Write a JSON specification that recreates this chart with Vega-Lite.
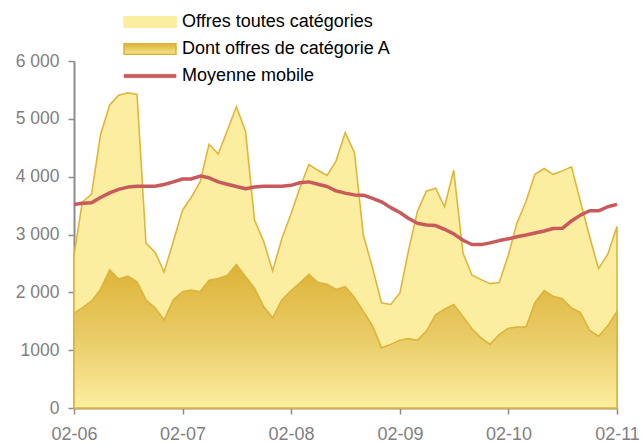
{
  "$schema": "https://vega.github.io/schema/vega-lite/v6.json",
  "width": 543,
  "height": 347,
  "autosize": "none",
  "padding": {"left": 74, "top": 61, "right": 24, "bottom": 36},
  "background": "white",
  "config": {"view": {"stroke": null}, "font": "Liberation Sans"},
  "data": {"values": [
    {"date": "2006-02-01", "total": 2640, "catA": 1640, "ma": 3520},
    {"date": "2006-03-01", "total": 3560, "catA": 1730, "ma": 3540},
    {"date": "2006-04-01", "total": 3700, "catA": 1850, "ma": 3550},
    {"date": "2006-05-01", "total": 4720, "catA": 2050, "ma": 3640},
    {"date": "2006-06-01", "total": 5240, "catA": 2390, "ma": 3720},
    {"date": "2006-07-01", "total": 5410, "catA": 2230, "ma": 3780},
    {"date": "2006-08-01", "total": 5450, "catA": 2280, "ma": 3820},
    {"date": "2006-09-01", "total": 5420, "catA": 2180, "ma": 3835},
    {"date": "2006-10-01", "total": 2850, "catA": 1870, "ma": 3835},
    {"date": "2006-11-01", "total": 2690, "catA": 1730, "ma": 3835},
    {"date": "2006-12-01", "total": 2350, "catA": 1520, "ma": 3865},
    {"date": "2007-01-01", "total": 2880, "catA": 1870, "ma": 3910},
    {"date": "2007-02-01", "total": 3420, "catA": 2010, "ma": 3960},
    {"date": "2007-03-01", "total": 3630, "catA": 2040, "ma": 3960},
    {"date": "2007-04-01", "total": 3910, "catA": 2010, "ma": 4010},
    {"date": "2007-05-01", "total": 4560, "catA": 2210, "ma": 3980},
    {"date": "2007-06-01", "total": 4390, "catA": 2240, "ma": 3910},
    {"date": "2007-07-01", "total": 4790, "catA": 2290, "ma": 3870},
    {"date": "2007-08-01", "total": 5210, "catA": 2480, "ma": 3830},
    {"date": "2007-09-01", "total": 4780, "catA": 2270, "ma": 3790},
    {"date": "2007-10-01", "total": 3250, "catA": 2070, "ma": 3820},
    {"date": "2007-11-01", "total": 2880, "catA": 1750, "ma": 3835},
    {"date": "2007-12-01", "total": 2370, "catA": 1560, "ma": 3835},
    {"date": "2008-01-01", "total": 2930, "catA": 1870, "ma": 3835},
    {"date": "2008-02-01", "total": 3360, "catA": 2030, "ma": 3850},
    {"date": "2008-03-01", "total": 3800, "catA": 2160, "ma": 3895},
    {"date": "2008-04-01", "total": 4210, "catA": 2310, "ma": 3910},
    {"date": "2008-05-01", "total": 4110, "catA": 2170, "ma": 3870},
    {"date": "2008-06-01", "total": 4020, "catA": 2140, "ma": 3830},
    {"date": "2008-07-01", "total": 4270, "catA": 2050, "ma": 3755},
    {"date": "2008-08-01", "total": 4760, "catA": 2100, "ma": 3715},
    {"date": "2008-09-01", "total": 4420, "catA": 1910, "ma": 3685},
    {"date": "2008-10-01", "total": 2990, "catA": 1670, "ma": 3680},
    {"date": "2008-11-01", "total": 2420, "catA": 1420, "ma": 3625},
    {"date": "2008-12-01", "total": 1820, "catA": 1040, "ma": 3565},
    {"date": "2009-01-01", "total": 1790, "catA": 1100, "ma": 3465},
    {"date": "2009-02-01", "total": 1990, "catA": 1170, "ma": 3380},
    {"date": "2009-03-01", "total": 2700, "catA": 1200, "ma": 3280},
    {"date": "2009-04-01", "total": 3400, "catA": 1170, "ma": 3195},
    {"date": "2009-05-01", "total": 3750, "catA": 1330, "ma": 3165},
    {"date": "2009-06-01", "total": 3800, "catA": 1610, "ma": 3155},
    {"date": "2009-07-01", "total": 3480, "catA": 1710, "ma": 3090},
    {"date": "2009-08-01", "total": 4110, "catA": 1790, "ma": 3010},
    {"date": "2009-09-01", "total": 2680, "catA": 1580, "ma": 2900},
    {"date": "2009-10-01", "total": 2300, "catA": 1370, "ma": 2827},
    {"date": "2009-11-01", "total": 2220, "catA": 1210, "ma": 2825},
    {"date": "2009-12-01", "total": 2150, "catA": 1100, "ma": 2855},
    {"date": "2010-01-01", "total": 2170, "catA": 1270, "ma": 2895},
    {"date": "2010-02-01", "total": 2650, "catA": 1380, "ma": 2925},
    {"date": "2010-03-01", "total": 3190, "catA": 1400, "ma": 2960},
    {"date": "2010-04-01", "total": 3570, "catA": 1400, "ma": 2990},
    {"date": "2010-05-01", "total": 4040, "catA": 1820, "ma": 3025},
    {"date": "2010-06-01", "total": 4140, "catA": 2030, "ma": 3060},
    {"date": "2010-07-01", "total": 4040, "catA": 1930, "ma": 3103},
    {"date": "2010-08-01", "total": 4100, "catA": 1890, "ma": 3106},
    {"date": "2010-09-01", "total": 4170, "catA": 1730, "ma": 3235},
    {"date": "2010-10-01", "total": 3570, "catA": 1650, "ma": 3335},
    {"date": "2010-11-01", "total": 2960, "catA": 1340, "ma": 3410},
    {"date": "2010-12-01", "total": 2410, "catA": 1240, "ma": 3410},
    {"date": "2011-01-01", "total": 2660, "catA": 1420, "ma": 3480},
    {"date": "2011-02-01", "total": 3140, "catA": 1670, "ma": 3520}
  ]},
  "encoding": {
    "x": {
      "field": "date", "type": "temporal",
      "scale": {"type": "utc", "domain": [{"year": 2006, "month": 2, "date": 1, "utc": true}, {"year": 2011, "month": 2, "date": 1, "utc": true}], "nice": false},
      "axis": {
        "title": null,
        "labelExpr": "utcFormat(datum.value, '%m-%y')",
        "values": [
          {"year": 2006, "month": 2, "date": 1, "utc": true},
          {"year": 2007, "month": 2, "date": 1, "utc": true},
          {"year": 2008, "month": 2, "date": 1, "utc": true},
          {"year": 2009, "month": 2, "date": 1, "utc": true},
          {"year": 2010, "month": 2, "date": 1, "utc": true},
          {"year": 2011, "month": 2, "date": 1, "utc": true}
        ],
        "grid": false, "domainColor": "#8c8c8c", "domainWidth": 2, "tickColor": "#8c8c8c", "tickWidth": 1.5, "tickSize": 6,
        "labelColor": "#808080", "labelFontSize": 18, "labelPadding": 11, "labelFlush": false, "labelOverlap": false
      }
    }
  },
  "layer": [
    {
      "mark": {"type": "area", "fill": "#FCEEA0", "stroke": "#E0B53A", "strokeWidth": 1.6, "strokeJoin": "miter"},
      "encoding": {
        "y": {
          "field": "total", "type": "quantitative",
          "scale": {"domain": [0, 6000], "nice": false},
          "axis": {
            "title": null, "values": [0, 1000, 2000, 3000, 4000, 5000, 6000], "grid": false,
            "labelExpr": "datum.value == 1000 ? '1000' : replace(format(datum.value, ','), ',', ' ')",
            "domainColor": "#8c8c8c", "domainWidth": 2, "tickColor": "#8c8c8c", "tickWidth": 1.5, "tickSize": 6,
            "labelColor": "#808080", "labelFontSize": 17.5, "labelPadding": 9
          }
        }
      }
    },
    {
      "mark": {
        "type": "area", "stroke": "#DDB33A", "strokeWidth": 1.6,
        "fill": {"gradient": "linear", "x1": 0, "y1": 0, "x2": 0, "y2": 1,
          "stops": [{"offset": 0, "color": "#DCB336"}, {"offset": 0.5, "color": "#E9CB66"}, {"offset": 1, "color": "#FCEEA0"}]}
      },
      "encoding": {"y": {"field": "catA", "type": "quantitative"}}
    },
    {
      "mark": {"type": "line", "strokeWidth": 3.5, "strokeJoin": "round"},
      "encoding": {
        "y": {"field": "ma", "type": "quantitative"},
        "color": {
          "datum": "Moyenne mobile",
          "scale": {"domain": ["Offres toutes catégories", "Dont offres de catégorie A", "Moyenne mobile"], "range": ["#FCEEA0", "#DCB336", "#C95A5C"]},
          "legend": {
            "orient": "none", "legendX": 67, "legendY": -48, "title": null,
            "symbolType": "M-5.2,-1.05H5.2V1.05H-5.2Z", "symbolSize": 100,
            "labelFont": "Liberation Sans", "labelFontSize": 18, "labelColor": "#000000", "labelOffset": 23, "labelLimit": 500,
            "rowPadding": 9, "symbolOpacity": 1,
            "encode": {"symbols": {"update": {
              "shape": {"signal": "datum.value === 'Moyenne mobile' ? 'M-5.2,-0.35H5.2V0.35H-5.2Z' : 'M-5.2,-1.05H5.2V1.05H-5.2Z'"},
              "fill": {"signal": "datum.value === 'Offres toutes catégories' ? '#FCEEA0' : datum.value === 'Moyenne mobile' ? '#C95A5C' : {gradient: 'linear', x1: 0, y1: 0, x2: 0, y2: 1, stops: [{offset: 0, color: '#DCB336'}, {offset: 1, color: '#F7E490'}]}"},
              "stroke": {"signal": "datum.value === 'Moyenne mobile' ? '#C95A5C' : '#E0B53A'"},
              "strokeWidth": {"signal": "datum.value === 'Moyenne mobile' ? 0.5 : 1.5"},
              "opacity": {"value": 1}
            }}}
          }
        }
      }
    }
  ]
}
